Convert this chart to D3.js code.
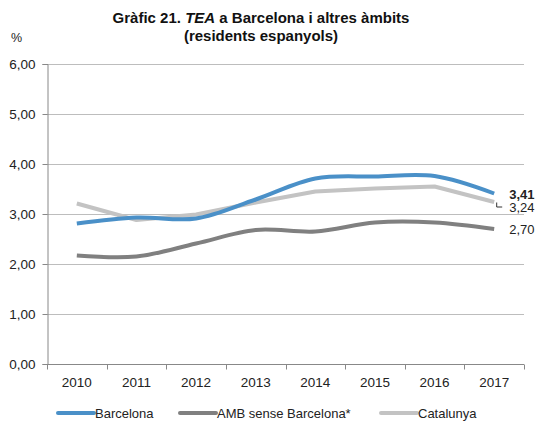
<!DOCTYPE html>
<html>
<head>
<meta charset="utf-8">
<script src="https://cdn.jsdelivr.net/npm/d3@7"></script>
<style>
  body { margin: 0; background: #fff; }
  svg { font-family: "Liberation Sans", Arial, sans-serif; }
</style>
</head>
<body>
<div id="chart"></div>
<script>
var years = ["2010", "2011", "2012", "2013", "2014", "2015", "2016", "2017"];
var barcelona = [2.81, 2.93, 2.91, 3.29, 3.71, 3.75, 3.76, 3.41];
var amb = [2.17, 2.15, 2.41, 2.68, 2.65, 2.83, 2.83, 2.70];
var catalunya = [3.21, 2.88, 2.99, 3.23, 3.45, 3.51, 3.55, 3.24];
var yTicks = [0, 1, 2, 3, 4, 5, 6];

var series = [
  {name: "Barcelona", values: barcelona, color: "#4a90c8", smooth: true, label: "3,41", bold: true, dy: 0},
  {name: "AMB sense Barcelona*", values: amb, color: "#808080", smooth: true, label: "2,70", bold: false, dy: 0},
  {name: "Catalunya", values: catalunya, color: "#c3c3c3", smooth: false, label: "3,24", bold: false, dy: 5}
];

var width = 537, height = 424;
var margin = {top: 64, right: 13, bottom: 60, left: 47};

var svg = d3.select("#chart").append("svg")
    .attr("width", width)
    .attr("height", height);

var x = d3.scaleBand()
    .domain(years)
    .range([margin.left, width - margin.right]);

var y = d3.scaleLinear()
    .domain([0, 6])
    .range([height - margin.bottom, margin.top]);

var fmt = function(d) { return d3.format(".2f")(d).replace(".", ","); };

// gridlines
svg.append("g")
  .selectAll("line")
  .data(yTicks.filter(function(d) { return d > 0; }))
  .join("line")
    .attr("x1", margin.left)
    .attr("x2", width - margin.right)
    .attr("y1", function(d) { return Math.round(y(d)) + 0.5; })
    .attr("y2", function(d) { return Math.round(y(d)) + 0.5; })
    .attr("stroke", "#bdbdbd")
    .attr("stroke-width", 1);

// y axis
var yAxis = svg.append("g")
    .attr("transform", "translate(" + (margin.left + 0.5) + ",0)")
    .call(d3.axisLeft(y).tickValues(yTicks).tickFormat(fmt).tickSize(5).tickPadding(7));
yAxis.select(".domain").attr("stroke", "#888");
yAxis.selectAll(".tick line").attr("stroke", "#888");
yAxis.selectAll(".tick text").attr("font-size", 13.5).attr("fill", "#222");

// x axis
var xAxis = svg.append("g")
    .attr("transform", "translate(0," + (Math.round(y(0)) + 0.5) + ")");
xAxis.append("line")
    .attr("x1", margin.left)
    .attr("x2", width - margin.right)
    .attr("stroke", "#888");
xAxis.selectAll(".xt")
  .data(years.concat(["end"]))
  .join("line")
    .attr("class", "xt")
    .attr("x1", function(d, i) { return Math.round(margin.left + i * x.bandwidth()) + 0.5; })
    .attr("x2", function(d, i) { return Math.round(margin.left + i * x.bandwidth()) + 0.5; })
    .attr("y1", 0)
    .attr("y2", 5)
    .attr("stroke", "#888");
xAxis.selectAll(".xl")
  .data(years)
  .join("text")
    .attr("class", "xl")
    .attr("x", function(d) { return x(d) + x.bandwidth() / 2; })
    .attr("y", 22)
    .attr("text-anchor", "middle")
    .attr("font-size", 13.5)
    .attr("fill", "#222")
    .text(function(d) { return d; });

// lines
series.slice().reverse().forEach(function(s) {
  var line = d3.line()
      .x(function(d, i) { return x(years[i]) + x.bandwidth() / 2; })
      .y(function(d) { return y(d); })
      .curve(s.smooth ? d3.curveCatmullRom.alpha(0.5) : d3.curveLinear);
  svg.append("path")
      .datum(s.values)
      .attr("d", line)
      .attr("fill", "none")
      .attr("stroke", s.color)
      .attr("stroke-width", 4)
      .attr("stroke-linejoin", "round");
});

// end labels
var lastX = x(years[7]) + x.bandwidth() / 2;
series.forEach(function(s) {
  svg.append("text")
      .attr("x", lastX + 15)
      .attr("y", y(s.values[7]) + s.dy + 5)
      .attr("font-size", 13)
      .attr("font-weight", s.bold ? "bold" : "normal")
      .attr("fill", "#222")
      .text(s.label);
});
// leader for Catalunya
var cy = y(catalunya[7]);
svg.append("path")
    .attr("d", "M" + (lastX + 2.5) + "," + (cy + 0.5) + "V" + (cy + 5) + "H" + (lastX + 8))
    .attr("fill", "none")
    .attr("stroke", "#333")
    .attr("stroke-width", 1);

// title
var title = svg.append("text")
    .attr("x", 261)
    .attr("y", 23)
    .attr("text-anchor", "middle")
    .attr("font-size", 15)
    .attr("font-weight", "bold")
    .attr("fill", "#111");
title.append("tspan").text("Gràfic 21. ");
title.append("tspan").attr("font-style", "italic").text("TEA");
title.append("tspan").text(" a Barcelona i altres àmbits");
svg.append("text")
    .attr("x", 261)
    .attr("y", 40.5)
    .attr("text-anchor", "middle")
    .attr("font-size", 15)
    .attr("font-weight", "bold")
    .attr("fill", "#111")
    .text("(residents espanyols)");

svg.append("text")
    .attr("x", 11)
    .attr("y", 42)
    .attr("font-size", 12.5)
    .attr("fill", "#222")
    .text("%");

// legend
var legendX = [58, 180, 381];
var legend = svg.append("g");
series.forEach(function(s, i) {
  legend.append("line")
      .attr("x1", legendX[i])
      .attr("x2", legendX[i] + 36)
      .attr("y1", 413)
      .attr("y2", 413)
      .attr("stroke", s.color)
      .attr("stroke-width", 4)
      .attr("stroke-linecap", "round");
  legend.append("text")
      .attr("x", legendX[i] + 37)
      .attr("y", 417.5)
      .attr("font-size", 13)
      .attr("fill", "#222")
      .text(s.name);
});
</script>
</body>
</html>
